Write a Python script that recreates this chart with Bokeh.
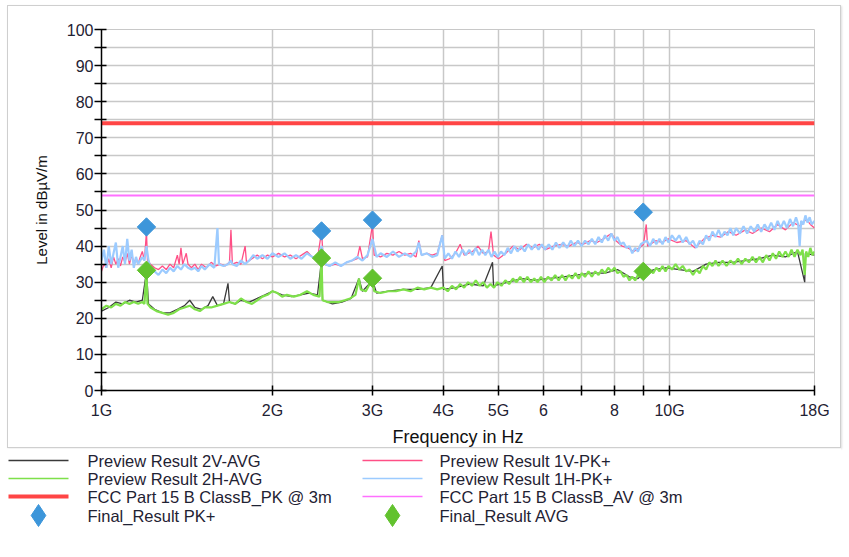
import math
from bokeh.plotting import figure
from bokeh.layouts import column
from bokeh.models import Range1d, FixedTicker, CustomJSTickFormatter
from bokeh.core.properties import value
from bokeh.embed import file_html
from bokeh.resources import INLINE

# ---------------- data (frequency in GHz, level in dBuV/m) ----------------
pk1h_f = [1.00, 1.01, 1.02, 1.03, 1.04, 1.05, 1.06, 1.07, 1.08, 1.09, 1.10, 1.11, 1.12, 1.13, 1.14, 1.15,
          1.16, 1.18, 1.19, 1.20, 1.21, 1.22, 1.24, 1.26, 1.28, 1.30, 1.32, 1.34, 1.36, 1.38, 1.40, 1.42,
          1.44, 1.46, 1.48, 1.50, 1.52, 1.55, 1.58, 1.60, 1.61, 1.64, 1.67, 1.69, 1.70, 1.73, 1.76, 1.79,
          1.82, 1.85, 1.88, 1.92, 1.96, 2.00, 2.05, 2.10, 2.15, 2.20, 2.25, 2.30, 2.35, 2.40, 2.44, 2.48,
          2.52, 2.58, 2.64, 2.70, 2.76, 2.82, 2.88, 2.94, 3.00, 3.05, 3.10, 3.18, 3.26, 3.34, 3.42, 3.50,
          3.58, 3.62, 3.66, 3.74, 3.82, 3.90, 3.98, 4.02, 4.08, 4.14, 4.20, 4.26, 4.32, 4.38, 4.44, 4.50,
          4.56, 4.62, 4.68, 4.74, 4.80, 4.86, 4.92, 4.98, 5.05, 5.12, 5.19, 5.26, 5.33, 5.40, 5.48, 5.56,
          5.64, 5.72, 5.80, 5.88, 5.96, 6.04, 6.13, 6.22, 6.31, 6.40, 6.50, 6.60, 6.70, 6.80, 6.90, 7.00,
          7.10, 7.20, 7.30, 7.40, 7.50, 7.60, 7.70, 7.80, 7.90, 8.00, 8.10, 8.20, 8.30, 8.40, 8.50, 8.60,
          8.70, 8.80, 8.90, 9.00, 9.12, 9.24, 9.36, 9.48, 9.60, 9.72, 9.84, 9.96, 10.1, 10.25, 10.4, 10.55,
          10.7, 10.85, 11.0, 11.15, 11.3, 11.45, 11.6, 11.75, 11.9, 12.05, 12.2, 12.35, 12.5, 12.65, 12.8,
          12.95, 13.1, 13.3, 13.5, 13.7, 13.9, 14.1, 14.3, 14.5, 14.7, 14.9, 15.1, 15.3, 15.5, 15.7, 15.9,
          16.1, 16.3, 16.5, 16.7, 16.85, 16.95, 17.05, 17.2, 17.35, 17.5, 17.65, 17.8, 18.0]
pk1h_v = [36, 39, 34, 40, 35, 38, 41, 34, 37, 40, 35, 42, 36, 39, 34, 37,
          35, 37, 36, 40, 36, 34, 33, 32, 33.5, 32.5, 34, 33, 34.5, 33.5, 35, 34,
          33.5, 34, 33, 34.5, 33.5, 35, 34, 45, 35, 34.5, 35, 36, 35, 34.5, 36, 35,
          36, 37.5, 36.5, 37.5, 36.5, 38, 37, 38, 36.5, 37.5, 36.5, 38, 37, 36.5, 40, 35,
          34.5, 35.5, 34.5, 35.5, 36, 37, 36, 37.5, 42, 37, 38, 37, 38.5, 37, 38, 37,
          38.5, 41, 37.5, 38, 37, 37.5, 43, 36.5, 38, 36.5, 38.5, 37, 39, 37.5, 39, 37.5,
          39.5, 37.5, 39, 37.5, 39, 37, 38.5, 37, 38.5, 37.5, 39.5, 38, 40, 38.5, 40, 38.5,
          40.5, 39, 40.5, 39, 40.5, 39, 40.5, 39, 41, 39.5, 41, 39.5, 41.5, 40, 41.5, 40,
          41.5, 40.5, 42, 40.5, 42.5, 41, 43, 41.5, 43.5, 41.5, 42.5, 40.5, 41, 39.5, 40, 38,
          39.5, 38.5, 40.5, 41, 41.5, 40, 42, 40.5, 42, 40.5, 42.5, 41, 43, 41.5, 43, 41,
          42.5, 40.5, 41.5, 39.5, 41.5, 40.5, 43, 41.5, 44, 42.5, 44.5, 42.5, 44, 43, 45,
          43, 45, 43.5, 45.5, 43.5, 45.5, 44, 46, 44, 46, 44.5, 46.5, 44.5, 47, 45, 47,
          45, 47.5, 45.5, 48, 46, 40, 47, 46, 48.5, 46.5, 48, 46, 47]

pk1v_f = [1.00, 1.01, 1.02, 1.03, 1.04, 1.05, 1.06, 1.07, 1.08, 1.09, 1.10, 1.11, 1.12, 1.13, 1.14, 1.15,
          1.16, 1.17, 1.18, 1.19, 1.20, 1.205, 1.22, 1.24, 1.26, 1.28, 1.30, 1.32, 1.34, 1.36, 1.37, 1.38,
          1.39, 1.41, 1.42, 1.44, 1.46, 1.48, 1.50, 1.53, 1.56, 1.59, 1.62, 1.65, 1.68, 1.69, 1.70, 1.73,
          1.76, 1.79, 1.80, 1.84, 1.88, 1.92, 1.96, 2.00, 2.05, 2.10, 2.15, 2.20, 2.25, 2.30, 2.35, 2.40,
          2.44, 2.46, 2.52, 2.58, 2.64, 2.70, 2.76, 2.82, 2.85, 2.88, 2.94, 3.00, 3.02, 3.10, 3.18, 3.26,
          3.34, 3.42, 3.50, 3.58, 3.62, 3.66, 3.74, 3.82, 3.90, 3.98, 4.02, 4.10, 4.20, 4.28, 4.35, 4.50,
          4.60, 4.70, 4.80, 4.85, 4.90, 5.00, 5.15, 5.30, 5.45, 5.60, 5.75, 5.90, 6.05, 6.25, 6.45, 6.65,
          6.85, 7.05, 7.25, 7.45, 7.65, 7.90, 8.05, 8.25, 8.45, 8.65, 8.85, 9.00, 9.10, 9.15, 9.45, 9.70,
          9.95, 10.3, 10.7, 11.1, 11.5, 11.9, 12.3, 12.7, 13.1, 13.6, 14.0, 14.5, 15.0, 15.5, 16.0, 16.5,
          17.0, 17.4, 17.7, 18.0]
pk1v_v = [33, 35, 34, 36.5, 34, 37, 35, 36.5, 34.5, 37, 35.5, 38, 35, 37.5, 35.5, 36.5,
          35, 37, 38.5, 36, 44, 36, 35, 34, 33.5, 34.5, 33.5, 35, 34, 37.5, 35, 39.5,
          35, 38, 35, 34, 35, 33.5, 35, 34, 35.5, 34.5, 35, 34.5, 35.5, 44.5, 35, 35.5,
          35, 40, 35.5, 36.5, 37.5, 36.5, 37.5, 37, 38, 37, 37.5, 36.5, 37.5, 38.5, 37, 36.5,
          44, 35, 34.5, 35, 34.5, 35.5, 36, 36.5, 40, 36.5, 37, 46, 37.5, 37, 38, 37.5,
          38.5, 37.5, 38, 37, 41.5, 37.5, 38, 37.5, 38, 43, 36, 36.5, 38, 40.5, 37.5, 38.5,
          40, 38, 38.5, 44, 37.5, 36.5, 38, 40, 39, 40.5, 39.5, 40.5, 39, 40, 40.5, 40,
          41, 40.5, 41.5, 41, 42, 43.5, 41.5, 40, 39.5, 38.5, 39.5, 40.5, 46, 40, 41.5, 41,
          42, 41, 41.5, 39.5, 42, 43, 42.5, 44, 43, 44.5, 43.5, 45, 44, 46, 44.5, 46.5,
          45.5, 47.5, 46, 45]

avg2h_f = [1.00, 1.02, 1.04, 1.06, 1.08, 1.10, 1.12, 1.14, 1.16, 1.18, 1.19, 1.20, 1.205, 1.22, 1.25, 1.28,
           1.31, 1.34, 1.37, 1.40, 1.43, 1.46, 1.49, 1.52, 1.56, 1.60, 1.64, 1.68, 1.72, 1.76, 1.80, 1.84,
           1.88, 1.92, 1.96, 2.00, 2.04, 2.08, 2.12, 2.18, 2.24, 2.30, 2.36, 2.42, 2.44, 2.45, 2.50, 2.56,
           2.62, 2.68, 2.74, 2.80, 2.84, 2.86, 2.92, 3.00, 3.02, 3.10, 3.20, 3.30, 3.40, 3.50, 3.60, 3.70,
           3.80, 3.90, 4.00, 4.07, 4.14, 4.21, 4.28, 4.35, 4.42, 4.49, 4.56, 4.63, 4.70, 4.77, 4.84, 4.91,
           4.98, 5.06, 5.14, 5.22, 5.30, 5.38, 5.46, 5.54, 5.62, 5.70, 5.78, 5.86, 5.94, 6.02, 6.11, 6.20,
           6.29, 6.38, 6.47, 6.56, 6.65, 6.74, 6.83, 6.92, 7.01, 7.10, 7.20, 7.30, 7.40, 7.50, 7.60, 7.70,
           7.80, 7.90, 8.00, 8.10, 8.20, 8.30, 8.40, 8.50, 8.60, 8.70, 8.80, 8.90, 9.00, 9.12, 9.24, 9.36,
           9.48, 9.60, 9.72, 9.84, 9.96, 10.1, 10.25, 10.4, 10.55, 10.7, 10.85, 11.0, 11.15, 11.3, 11.45,
           11.6, 11.75, 11.9, 12.05, 12.2, 12.4, 12.6, 12.8, 13.0, 13.2, 13.4, 13.6, 13.8, 14.0, 14.2,
           14.4, 14.6, 14.8, 15.0, 15.2, 15.4, 15.6, 15.8, 16.0, 16.2, 16.4, 16.6, 16.8, 17.0, 17.15,
           17.3, 17.4, 17.55, 17.7, 17.85, 18.0]
avg2h_v = [22.5, 23.5, 23, 24, 23.5, 24.5, 24, 24.5, 24, 24.5, 24, 33, 24, 23, 22, 21.5,
           21, 21.5, 22.5, 23, 23.5, 22.5, 22, 23, 23, 23.5, 24, 24.5, 24, 25.5, 24.5, 24,
           25, 26, 26.5, 27.5, 27, 26, 26.5, 26, 26.5, 27.5, 26.5, 26, 36.5, 25, 24.5, 24.5,
           24.5, 25, 25.5, 26.5, 31, 28, 27.5, 31, 27.5, 27, 27.5, 27.5, 28, 27.5, 28.5, 28,
           28.5, 28, 28.5, 27.5, 29, 28, 29.5, 28.5, 30, 29, 30.5, 29, 30, 28.5, 29.5, 28.5,
           30, 29, 30.5, 29.5, 31, 30, 31.5, 30, 31.5, 30, 31, 30, 31.5, 30, 31.5, 30.5,
           32, 30.5, 32, 30.5, 32, 31, 32.5, 31, 32.5, 31.5, 33, 31.5, 33, 32, 33.5, 32.5,
           34, 33, 34, 32.5, 33, 31.5, 32, 30.5, 31.5, 30.5, 32, 31.5, 33, 32, 33.5, 32.5,
           34, 33, 34.5, 33, 34.5, 33.5, 35, 33.5, 34.5, 33, 33.5, 32, 33.5, 32.5, 34.5,
           33.5, 35.5, 34.5, 36, 34.5, 36, 34.5, 36, 35, 36.5, 35, 36.5, 35.5, 37, 35.5,
           37, 35.5, 37.5, 36, 38, 36.5, 38.5, 37, 38.5, 37, 39, 37, 39, 37.5, 39,
           32, 38.5, 37, 39.5, 37.5, 38.5]

avg2v_f = [1.00, 1.03, 1.06, 1.09, 1.12, 1.15, 1.18, 1.20, 1.21, 1.24, 1.28, 1.32, 1.36, 1.40, 1.43, 1.46,
           1.50, 1.54, 1.57, 1.60, 1.64, 1.67, 1.68, 1.72, 1.76, 1.82, 1.88, 1.94, 2.00, 2.08, 2.16, 2.24,
           2.32, 2.40, 2.44, 2.45, 2.55, 2.65, 2.75, 2.84, 2.88, 3.00, 3.05, 3.20, 3.40, 3.60, 3.80, 3.98,
           4.00, 4.20, 4.45, 4.70, 4.88, 4.90, 5.20, 5.50, 5.80, 6.10, 6.50, 6.90, 7.30, 7.70, 8.10, 8.50,
           8.80, 9.00, 9.40, 9.90, 10.4, 11.0, 11.6, 12.2, 12.9, 13.6, 14.4, 15.2, 16.0, 16.8, 17.3, 17.35,
           18.0]
avg2v_v = [22, 23, 24.5, 24, 25, 24.5, 25, 33, 24, 22.5, 21.5, 21.5, 22.5, 23.5, 25, 23,
           22.5, 23.5, 26, 23.5, 24, 29.7, 24.5, 24, 25, 24.5, 25.5, 26.5, 27.5, 26.5, 26, 26.5,
           27, 26.5, 36, 25, 24, 24.5, 25.5, 31, 27.5, 30.5, 27, 27.5, 28, 28, 28.5, 34.5,
           28, 28.5, 29.5, 29, 35.5, 29, 30, 31, 30.5, 31, 31.5, 32, 32.5, 32.5, 33.5, 31.5,
           31, 32.5, 33.5, 34, 33.5, 33, 35, 35.5, 35.5, 36, 36.5, 37.5, 37, 38.5, 30, 38,
           37.5]

limit_f = [1.0, 18.0]
limit_pk = [74, 74]
limit_av = [54, 54]

final_pk_f = [1.20, 2.44, 3.00, 8.99]
final_pk_v = [45.3, 44.2, 47.2, 49.4]
final_avg_f = [1.20, 2.44, 3.00, 8.99]
final_avg_v = [33.3, 36.7, 31.1, 33.0]

x_ticks = [1, 2, 3, 4, 5, 6, 7, 8, 9, 10, 18]
x_tick_labels = {1: "1G", 2: "2G", 3: "3G", 4: "4G", 5: "5G", 6: "6", 7: "", 8: "8", 9: "", 10: "10G", 18: "18G"}
y_major = list(range(0, 101, 10))
y_minor = list(range(5, 100, 10))

legend_labels = ["Preview Result 2V-AVG", "Preview Result 2H-AVG", "FCC Part 15 B ClassB_PK @ 3m",
                 "Final_Result PK+", "Preview Result 1V-PK+", "Preview Result 1H-PK+",
                 "FCC Part 15 B ClassB_AV @ 3m", "Final_Result AVG"]

# ---------------- styling ----------------
C_BLACK = "#3a3a3a"
C_GREEN = "#7ee04a"
C_PINK = "#ff4f86"
C_BLUE = "#9ccbff"
C_RED = "#ff4545"
C_MAG = "#ff70ff"
C_DPK = "#3d96da"
C_DAVG = "#62c22e"
FONT = "Liberation Sans"
TXT = "#1f2233"

W = 834
p = figure(width=W, height=443, x_axis_type="log", output_backend="svg", toolbar_location=None,
           x_range=Range1d(1, 18), y_range=Range1d(0, 100),
           min_border_left=93, min_border_right=28, min_border_top=23, min_border_bottom=50)
p.styles = {"border": "1px solid #cfcfcf", "box-shadow": "1px 1px 2px #dddddd"}
p.outline_line_color = "#c8c8c8"
p.background_fill_color = "white"

p.xaxis.ticker = FixedTicker(ticks=x_ticks)
p.xaxis.formatter = CustomJSTickFormatter(args=dict(m={str(k): v for k, v in x_tick_labels.items()}),
                                          code="const k = String(Math.round(tick)); return (k in m) ? m[k] : '';")
p.yaxis.ticker = FixedTicker(ticks=y_major, minor_ticks=y_minor)
for ax in (p.xaxis, p.yaxis):
    ax.axis_line_color = "black"
    ax.axis_line_width = 1.5
    ax.major_tick_line_color = "black"
    ax.major_tick_line_width = 1.5
    ax.minor_tick_line_color = "black"
    ax.minor_tick_line_width = 1.5
    ax.major_label_text_font = FONT
    ax.major_label_text_font_size = "16px"
    ax.major_label_text_color = TXT
    ax.axis_label_text_font = FONT
    ax.axis_label_text_font_style = "normal"
    ax.axis_label_text_color = "#111111"
p.xaxis.major_tick_in = 5
p.xaxis.major_tick_out = 5
p.xaxis.minor_tick_in = 0
p.xaxis.minor_tick_out = 0
p.xaxis.major_label_standoff = 6
p.xaxis.axis_label = "Frequency in Hz"
p.xaxis.axis_label_text_font_size = "18px"
p.xaxis.axis_label_standoff = 5
p.yaxis.major_tick_in = 5
p.yaxis.major_tick_out = 7
p.yaxis.minor_tick_in = 5
p.yaxis.minor_tick_out = 7
p.yaxis.major_label_standoff = 1
p.yaxis.axis_label = "Level in dBµV/m"
p.yaxis.axis_label_text_font_size = "15px"
p.yaxis.axis_label_standoff = 14

p.xgrid.grid_line_color = "#c8c8c8"
p.xgrid.grid_line_width = 1.5
p.ygrid.grid_line_color = "#c8c8c8"
p.ygrid.grid_line_width = 1.5
p.ygrid.minor_grid_line_color = "#c8c8c8"
p.ygrid.minor_grid_line_width = 1.5

p.line(limit_f, limit_pk, line_color=C_RED, line_width=4)
p.line(limit_f, limit_av, line_color=C_MAG, line_width=2)
p.line(avg2v_f, avg2v_v, line_color=C_BLACK, line_width=1.3)
p.line(avg2h_f, avg2h_v, line_color=C_GREEN, line_width=2.2)
p.line(pk1v_f, pk1v_v, line_color=C_PINK, line_width=1.3)
p.line(pk1h_f, pk1h_v, line_color=C_BLUE, line_width=2.2)
p.scatter(final_pk_f, final_pk_v, marker="square", angle=math.pi / 4, size=13,
          fill_color=C_DPK, line_color=C_DPK)
p.scatter(final_avg_f, final_avg_v, marker="square", angle=math.pi / 4, size=13,
          fill_color=C_DAVG, line_color=C_DAVG)

# ---------------- legend panel ----------------
LH = 101
lg = figure(width=W, height=LH, output_backend="svg", toolbar_location=None,
            x_range=Range1d(0, W), y_range=Range1d(0, LH), min_border=0)
lg.axis.visible = False
lg.grid.visible = False
lg.outline_line_color = None
for fig in (p, lg):
    if "frame_align" in fig.properties():
        fig.frame_align = False

row_y = [LH - 12, LH - 30, LH - 48, LH - 67]
col_line = [(1, 61), (355, 415)]
col_text = [80, 432]
line_styles = [(C_BLACK, 1.5), (C_GREEN, 1.5), (C_RED, 4)], [(C_PINK, 1.5), (C_BLUE, 1.5), (C_MAG, 1.5)]
for ci in range(2):
    x0, x1 = col_line[ci]
    for ri, (col, lw) in enumerate(line_styles[ci]):
        lg.segment(x0=[x0], y0=[row_y[ri]], x1=[x1], y1=[row_y[ri]], line_color=col, line_width=lw)
    dcol = C_DPK if ci == 0 else C_DAVG
    lg.scatter([(x0 + x1) / 2], [row_y[3]], marker="diamond", size=22, fill_color=dcol, line_color=dcol)
    labels = legend_labels[ci * 4:(ci + 1) * 4]
    lg.text(x=[col_text[ci]] * 4, y=row_y, text=labels, text_font=value(FONT),
            text_font_size="16.5px", text_baseline="middle", text_color=TXT)

layout = column(p, lg, spacing=0)
layout.styles = {"margin-left": "7px", "margin-top": "5px"}
open("out.html", "w").write(file_html(layout, INLINE))
